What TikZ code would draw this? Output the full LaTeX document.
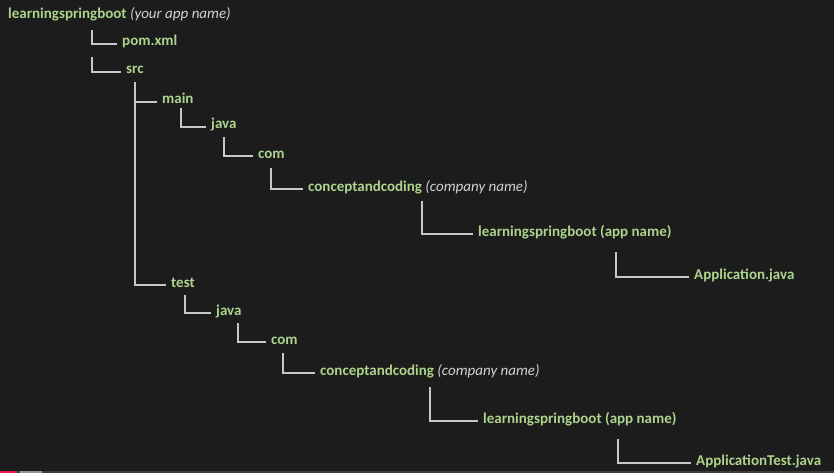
\documentclass[tikz,border=0pt]{standalone}
\usepackage{fontspec}
\setmainfont{Carlito}
\usetikzlibrary{positioning}

\definecolor{bgdark}{RGB}{28,28,28}
\definecolor{leafgreen}{RGB}{172,212,140}
\definecolor{notegray}{RGB}{210,210,210}
\definecolor{linegray}{RGB}{200,200,200}
\definecolor{barred}{RGB}{232,24,74}
\definecolor{barlight}{RGB}{150,150,150}
\definecolor{barmid}{RGB}{62,62,62}

\newcommand\appnote[1]{{\mdseries\itshape\color{notegray}#1}}

\begin{document}
\begin{tikzpicture}[
    x = 1pt, y = -1pt, % pixel grid, y runs down
    dir/.style = {anchor=west, inner xsep=5pt, inner ysep=0pt,
        text height=9pt, text depth=5pt,
        font=\fontsize{15}{18}\selectfont\bfseries, text=leafgreen},
    branch/.style = {draw=linegray, line width=1.7pt} % tree lines
    ]
    \useasboundingbox (0,0) rectangle (834,473);
    \fill[bgdark] (0,0) rectangle (834,473);
    % player bar at the bottom
    \fill[barmid] (0,470.5) rectangle (834,473);
    \fill[barlight] (20,470.5) rectangle (42,473);
    \fill[barred] (0,470.5) rectangle (17,473);

    \node[dir] (root) at (3,17) {learningspringboot \appnote{(your app name)}};

    \node[dir] (pom) at (117,44) {pom.xml};
    \node[dir] (src) at (121,72) {src};

    \node[dir] (main) at (157,102) {main};
    \node[dir] (mjava) at (206,127) {java};
    \node[dir] (mcom) at (253,156) {com};
    \node[dir] (mcompany) at (303,189) {conceptandcoding \appnote{(company name)}};
    \node[dir] (mapp) at (473,234) {learningspringboot (app name)};
    \node[dir] (appjava) at (689,277) {Application.java};

    \node[dir] (test) at (166,285) {test};
    \node[dir] (tjava) at (211,313) {java};
    \node[dir] (tcom) at (266,342) {com};
    \node[dir] (tcompany) at (315,373) {conceptandcoding \appnote{(company name)}};
    \node[dir] (tapp) at (478,421) {learningspringboot (app name)};
    \node[dir] (testjava) at (691,463) {ApplicationTest.java};

    % tops of the elbows
    \coordinate (pomtop) at (92,30);
    \coordinate (srctop) at (92,57);
    \coordinate (spine) at (135,82);
    \coordinate (mjavatop) at (181,108);
    \coordinate (mcomtop) at (224,137);
    \coordinate (mcompanytop) at (271,168);
    \coordinate (mapptop) at (422,201);
    \coordinate (appjavatop) at (616,252);
    \coordinate (tjavatop) at (185,295);
    \coordinate (tcomtop) at (238,323);
    \coordinate (tcompanytop) at (283,353);
    \coordinate (tapptop) at (430,387);
    \coordinate (testjavatop) at (618,439);

    \draw[branch] (pomtop) |- (pom.west);
    \draw[branch] (srctop) |- (src.west);
    \draw[branch] (spine) |- (test.west);
    \draw[branch] (spine |- main.west) -- (main.west);
    \draw[branch] (mjavatop) |- (mjava.west);
    \draw[branch] (mcomtop) |- (mcom.west);
    \draw[branch] (mcompanytop) |- (mcompany.west);
    \draw[branch] (mapptop) |- (mapp.west);
    \draw[branch] (appjavatop) |- (appjava.west);
    \draw[branch] (tjavatop) |- (tjava.west);
    \draw[branch] (tcomtop) |- (tcom.west);
    \draw[branch] (tcompanytop) |- (tcompany.west);
    \draw[branch] (tapptop) |- (tapp.west);
    \draw[branch] (testjavatop) |- (testjava.west);
\end{tikzpicture}
\end{document}
